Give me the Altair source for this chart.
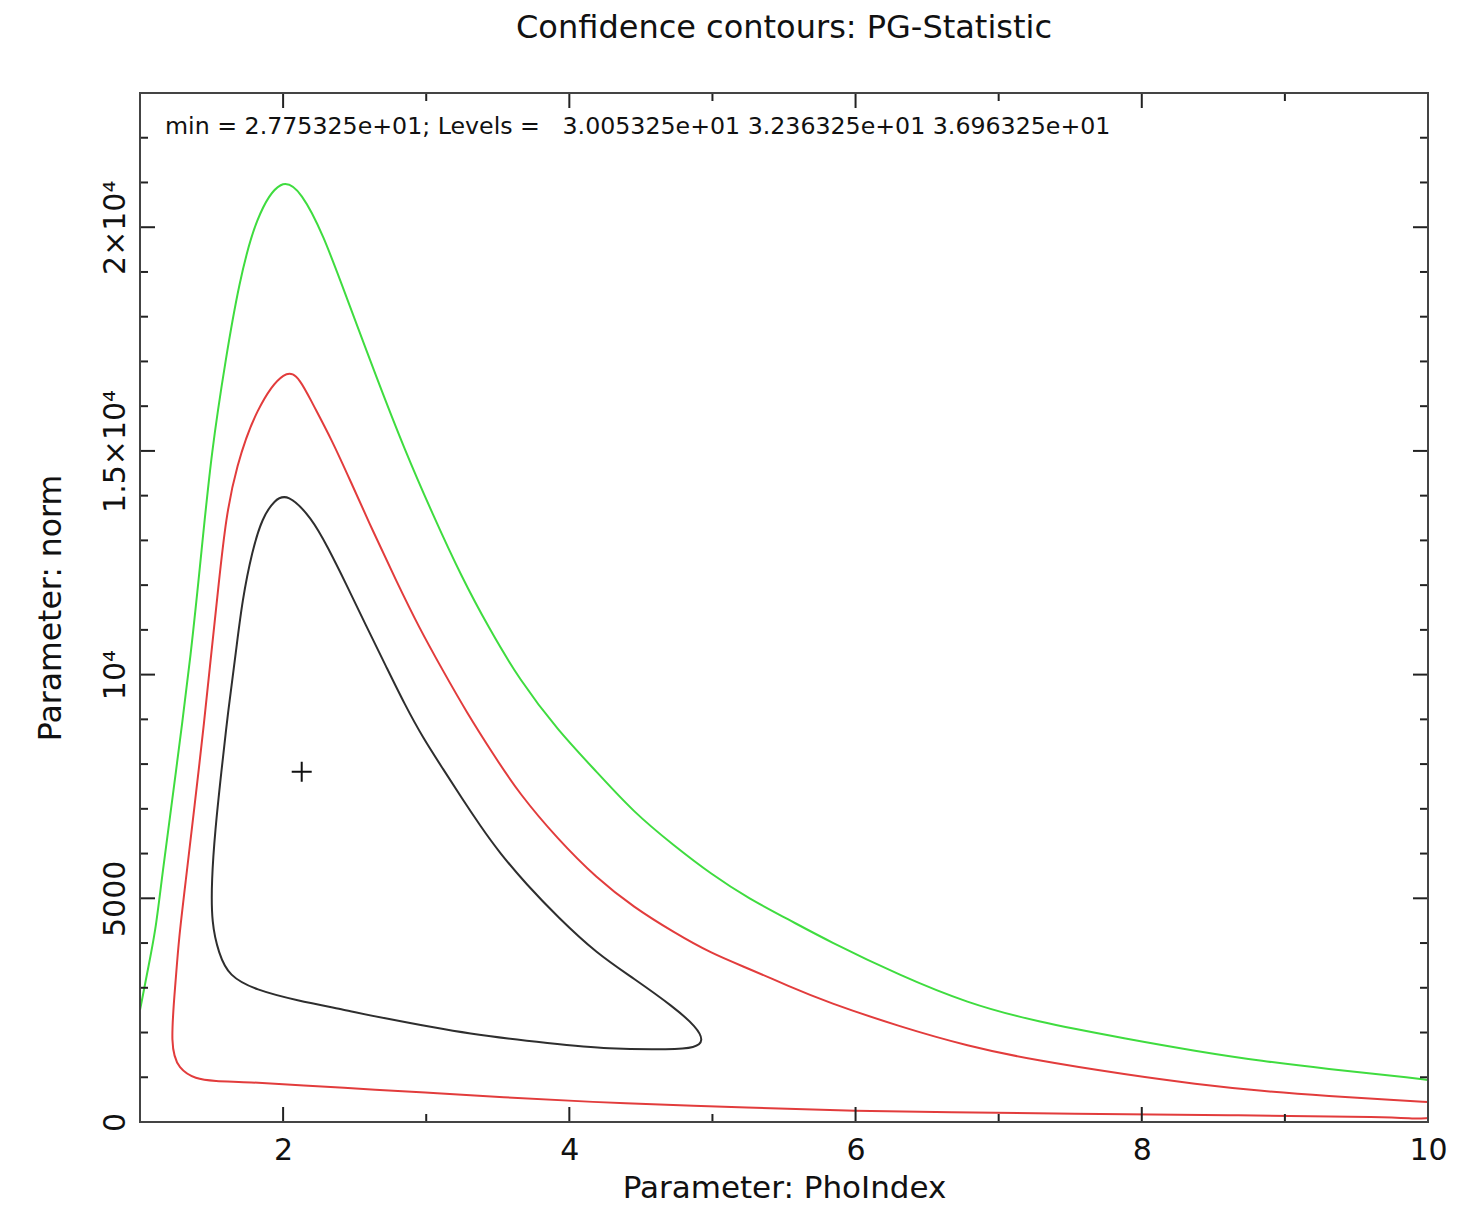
import altair as alt
import pandas as pd

FONT = "DejaVu Sans"

title_text = "Confidence contours: PG-Statistic"
x_title = "Parameter: PhoIndex"
y_title = "Parameter: norm"
info_text = "min = 2.775325e+01; Levels =\u00a0\u00a0\u00a03.005325e+01 3.236325e+01 3.696325e+01"

levels = ["3.005325e+01", "3.236325e+01", "3.696325e+01"]
level_colors = ["#2e2e2e", "#e23c3c", "#3fdc3f"]

# inner (black) contour, closed
black_x = [2.03, 2.20, 2.31, 2.44, 2.58, 2.72, 2.85, 2.98, 3.12, 3.25, 3.38, 3.51, 3.70,
           3.92, 4.19, 4.45, 4.73, 4.89, 4.94, 4.88, 4.72, 4.27, 3.87, 3.33, 2.67, 2.44,
           2.09, 1.81, 1.62, 1.55, 1.50, 1.50, 1.525, 1.567, 1.616, 1.672, 1.714, 1.784,
           1.854, 1.938]
black_y = [14060, 13500, 12860, 12030, 11090, 10180, 9330, 8570, 7880, 7230, 6610, 6030, 5310,
           4580, 3770, 3210, 2570, 2120, 1810, 1660, 1620, 1630, 1760, 1940, 2340, 2500,
           2720, 2950, 3260, 3770, 4440, 5400, 6520, 7790, 9200, 10540, 11650, 12770,
           13500, 13900]

# middle (red) contour, open at x = 10
red_x = [10.0, 9.91, 9.77, 8.6, 7.49, 6.64, 5.99, 5.38, 4.92, 4.14, 3.51, 3.07, 2.67,
         2.11, 1.76, 1.51, 1.39, 1.27, 1.21, 1.25, 1.27, 1.32, 1.38, 1.45, 1.50, 1.55,
         1.60, 1.67, 1.81, 2.02, 2.12, 2.20, 2.34, 2.47, 2.63, 2.79, 2.95, 3.12, 3.28,
         3.47, 3.65, 3.92, 4.19, 4.45, 4.73, 4.99, 5.26, 5.53, 5.80, 6.32, 6.78, 7.25,
         7.91, 8.37, 8.84, 9.31, 9.77, 10.0]
red_y = [90, 67, 112, 156, 179, 223, 246, 312, 357, 446, 558, 647, 714,
         826, 893, 915, 960, 1180, 1674, 3170, 4060, 5400, 7030, 8970, 10540, 12030,
         13500, 14620, 15950, 16880, 16600, 16090, 15250, 14330, 13190, 12100, 11050, 10070, 9170,
         8210, 7340, 6320, 5450, 4800, 4240, 3770, 3420, 3040, 2680, 2120, 1700, 1380,
         1050, 850, 690, 580, 490, 446]

# outer (green) contour, open at x = 1 and x = 10
green_x = [1.0, 1.05, 1.11, 1.15, 1.25, 1.36, 1.43, 1.50, 1.60, 1.69, 1.81, 1.99,
           2.13, 2.28, 2.44, 2.66, 2.85, 3.04, 3.25, 3.44, 3.65, 3.92, 4.19, 4.45,
           4.73, 4.99, 5.26, 5.53, 5.80, 6.32, 6.78, 7.25, 7.91, 8.37, 8.84,
           9.31, 9.77, 10.0]
green_y = [2500, 3330, 4290, 5400, 7790, 10540, 12770, 15000, 17080, 18730, 20250, 21150,
           20780, 19840, 18460, 16580, 15020, 13620, 12160, 11030, 9890, 8750, 7830, 6920,
           6180, 5540, 4980, 4530, 4060, 3260, 2660, 2250, 1850, 1590, 1360,
           1180, 1030, 940]

best_fit_x = [2.13]
best_fit_y = [7830]

x_labels = [2, 4, 6, 8, 10]
x_major_ticks = [2, 4, 6, 8]
x_minor_ticks = [3, 5, 7, 9]
y_labels = [0, 5000, 10000, 15000, 20000]
y_label_text = ["0", "5000", "10\u2074", "1.5\u00d710\u2074", "2\u00d710\u2074"]
y_major_ticks = [5000, 10000, 15000, 20000]
y_minor_ticks = [1000, 2000, 3000, 4000, 6000, 7000, 8000, 9000, 11000, 12000, 13000,
                 14000, 16000, 17000, 18000, 19000, 21000, 22000]

X_MIN, X_MAX = 1, 10
Y_MIN, Y_MAX = 0, 23000


def contour_frame(pairs):
    rows = []
    for name, xs_, ys_ in pairs:
        for i, (a, b) in enumerate(zip(xs_, ys_)):
            rows.append({"level": name, "x": a, "y": b, "seq": i})
    return pd.DataFrame(rows)


closed_df = contour_frame([(levels[0], black_x, black_y)])
open_df = contour_frame([(levels[1], red_x, red_y), (levels[2], green_x, green_y)])

xscale = alt.Scale(domain=[X_MIN, X_MAX], nice=False, zero=False)
yscale = alt.Scale(domain=[Y_MIN, Y_MAX], nice=False, zero=False)
cscale = alt.Scale(domain=levels, range=level_colors)

label_expr = " : ".join(
    f"datum.value == {v} ? '{t}'" for v, t in zip(y_labels, y_label_text)
) + " : ''"

x_axis = alt.Axis(values=x_labels, ticks=False, domain=False, grid=False, labelFlush=False,
                  labelFontSize=30, labelPadding=13, labelFont=FONT, labelColor="#111",
                  title=x_title, titleFontSize=31, titleFont=FONT, titleFontWeight="normal",
                  titlePadding=8, titleColor="#111", format="d")
y_axis = alt.Axis(values=y_labels, ticks=False, domain=False, grid=False, labelFlush=False,
                  labelExpr=label_expr, labelAngle=270, labelAlign="center",
                  labelBaseline="alphabetic", labelFontSize=30, labelPadding=16,
                  labelFont=FONT, labelColor="#111",
                  title=y_title, titleFontSize=31.5, titleFont=FONT, titleFontWeight="normal",
                  titlePadding=33, titleColor="#111")

X = lambda f: alt.X(f, scale=xscale, axis=x_axis)
Y = lambda f: alt.Y(f, scale=yscale, axis=y_axis)

closed_line = alt.Chart(closed_df).mark_line(
    strokeWidth=2, clip=True, interpolate="basis-closed"
).encode(x=X("x:Q"), y=Y("y:Q"),
         color=alt.Color("level:N", scale=cscale, legend=None),
         detail="level:N", order="seq:Q")

open_lines = alt.Chart(open_df).mark_line(
    strokeWidth=2, clip=True, interpolate="basis"
).encode(x=X("x:Q"), y=Y("y:Q"),
         color=alt.Color("level:N", scale=cscale, legend=None),
         detail="level:N", order="seq:Q")


def tick_layer(values, orient, size, edge_datum):
    d = pd.DataFrame({"v": values})
    m = alt.Chart(d).mark_tick(orient=orient, size=size, thickness=2, color="#222",
                               clip=True, opacity=1)
    if orient == "vertical":
        return m.encode(x=X("v:Q"), y=alt.Y(datum=edge_datum, scale=yscale, axis=y_axis))
    return m.encode(y=Y("v:Q"), x=alt.X(datum=edge_datum, scale=xscale, axis=x_axis))


ticks = [
    tick_layer(x_major_ticks, "vertical", 30, Y_MIN),
    tick_layer(x_major_ticks, "vertical", 30, Y_MAX),
    tick_layer(x_minor_ticks, "vertical", 16, Y_MIN),
    tick_layer(x_minor_ticks, "vertical", 16, Y_MAX),
    tick_layer(y_major_ticks, "horizontal", 30, X_MIN),
    tick_layer(y_major_ticks, "horizontal", 30, X_MAX),
    tick_layer(y_minor_ticks, "horizontal", 16, X_MIN),
    tick_layer(y_minor_ticks, "horizontal", 16, X_MAX),
]

frame = alt.Chart(pd.DataFrame({"a": [0]})).mark_rect(
    fill=None, fillOpacity=0, stroke="#444", strokeWidth=2
).encode(
    x=alt.X(datum=X_MIN, scale=xscale, axis=x_axis), x2=alt.X2(datum=X_MAX),
    y=alt.Y(datum=Y_MIN, scale=yscale, axis=y_axis), y2=alt.Y2(datum=Y_MAX),
)

best = alt.Chart(pd.DataFrame({"x": best_fit_x, "y": best_fit_y})).mark_point(
    shape="M-1,0L1,0M0,-1L0,1", size=400, filled=False, stroke="#111", strokeWidth=2, opacity=1
).encode(x=X("x:Q"), y=Y("y:Q"))

info = alt.Chart(pd.DataFrame({"x": [1.175], "y": [22250], "t": [info_text]})).mark_text(
    align="left", baseline="middle", fontSize=23.7, font=FONT, color="#111"
).encode(x=X("x:Q"), y=Y("y:Q"), text="t:N")

chart = alt.layer(open_lines, closed_line, *ticks, frame, best, info).properties(
    width=1288, height=1029,
    title=alt.TitleParams(title_text, fontSize=32, font=FONT, fontWeight="normal",
                          color="#111", anchor="middle", offset=47),
    autosize=alt.AutoSizeParams(type="none"),
    padding={"left": 132, "top": 85, "right": 30, "bottom": 90},
).configure_view(stroke="#444", strokeWidth=2).configure(background="white")

chart.save("out.html", embed_options={"renderer": "svg", "actions": False})
